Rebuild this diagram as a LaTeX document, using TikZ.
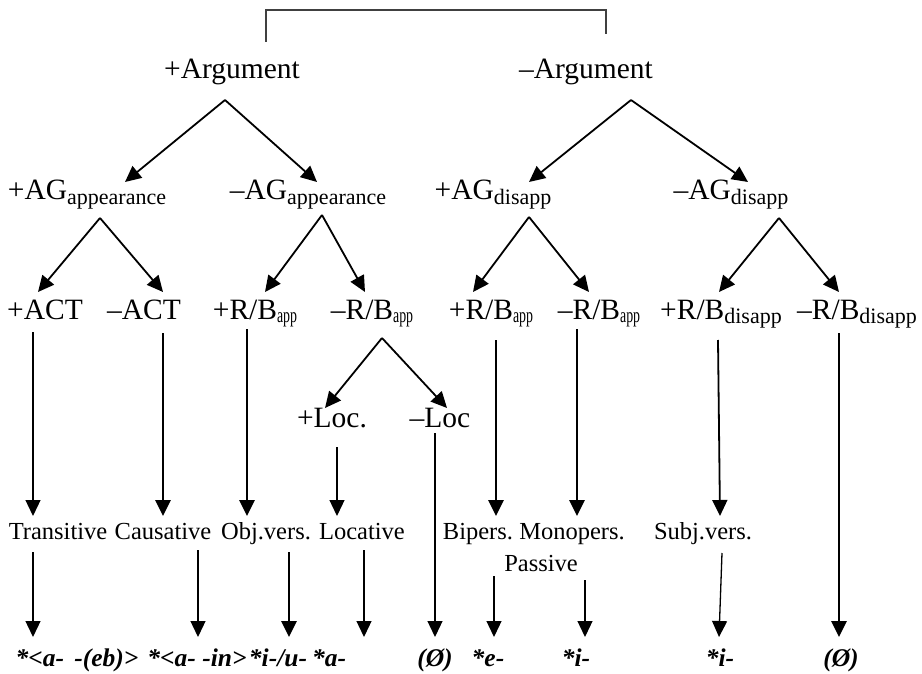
\documentclass[tikz,border=0pt]{standalone}
\usepackage{fontspec}
\setmainfont{Liberation Serif}
\usepackage{graphicx}
\usetikzlibrary{arrows.meta}
\newcommand\subtxt[1]{\raisebox{-5pt}{\fontsize{22}{24}\selectfont #1}}
\newcommand\subapp[1]{\raisebox{-3pt}{\scalebox{0.66}[1]{\fontsize{21}{24}\selectfont #1}}}
\tikzset{
  lvA/.style={font=\fontsize{29.5}{34}\selectfont,inner sep=0pt,anchor=base},
  lvB/.style={font=\fontsize{24.5}{28}\selectfont,inner sep=0pt,anchor=base},
  form/.style={font=\fontsize{25.5}{30}\selectfont\bfseries\itshape,inner sep=0pt,anchor=base},
  arr/.style={-{Triangle[length=16pt,width=15pt]},line width=1.8pt},
  arrB/.style={arr,line width=2.7pt},
  arrT/.style={arr,line width=1.3pt}
}
\begin{document}
\begin{tikzpicture}[x=1pt,y=-1pt]
\useasboundingbox (0,0) rectangle (922,674);
% features
\node[lvA] (argp) at (232,79) {+Argument};
\node[lvA] (argm) at (586,79) {–Argument};
\node[lvA] (agpp) at (87,200) {+AG\subtxt{appearance}};
\node[lvA] (agpm) at (308,200) {–AG\subtxt{appearance}};
\node[lvA] (agdp) at (493,200) {+AG\subtxt{disapp}};
\node[lvA] (agdm) at (731,200) {–AG\subtxt{disapp}};
\node[lvA] (actp) at (45,319) {+ACT};
\node[lvA] (actm) at (144,319) {–ACT};
\node[lvA] (rbap1) at (255,319) {+R/B\subapp{app}};
\node[lvA] (rbam1) at (372,319) {–R/B\subapp{app}};
\node[lvA] (rbap2) at (491,319) {+R/B\subapp{app}};
\node[lvA] (rbam2) at (599,319) {–R/B\subapp{app}};
\node[lvA] (rbdp) at (721,319) {+R/B\subtxt{disapp}};
\node[lvA] (rbdm) at (857,319) {–R/B\subtxt{disapp}};
\node[lvA] (locp) at (332,427) {+Loc.};
\node[lvA] (locm) at (440,427) {–Loc};
% verb classes
\node[lvB] (trans) at (58,539) {Transitive};
\node[lvB] (caus) at (163,539) {Causative};
\node[lvB] (objv) at (266,539) {Obj.vers.};
\node[lvB] (loc) at (362,539) {Locative};
\node[lvB] (bip) at (478,539) {Bipers.};
\node[lvB] (mono) at (572,539) {Monopers.};
\node[lvB] (pass) at (541,571) {Passive};
\node[lvB] (subj) at (703,539) {Subj.vers.};
% vowels
\node[form] (f1) at (77,666) {*<a-\hspace{0.4em}-(eb)>};
\node[form] (f2) at (197,666) {*<a- -in>};
\node[form] (f3) at (278,666) {*i-/u-};
\node[form] (f4) at (329,666) {*a-};
\node[form] (f5) at (435,666) {(Ø)};
\node[form] (f6) at (488,666) {*e-};
\node[form] (f7) at (576,666) {*i-};
\node[form] (f8) at (720,666) {*i-};
\node[form] (f9) at (841,666) {(Ø)};
% bracket on top
\draw[line width=1.4pt,black!75] ([shift={(34,-37)}]argp.base) |- ([shift={(20,-69)}]argm.base) -- ([shift={(20,-45)}]argm.base);
% branching
\draw[arr] ([shift={(-7,21)}]argp.base) -- ([shift={(38,-18)}]agpp.base);
\draw[arr] ([shift={(-7,21)}]argp.base) -- ([shift={(9,-18)}]agpm.base);
\draw[arr] ([shift={(45,21)}]argm.base) -- ([shift={(36,-18)}]agdp.base);
\draw[arr] ([shift={(45,21)}]argm.base) -- ([shift={(17,-18)}]agdm.base);
\draw[arr] ([shift={(13,18)}]agpp.base) -- ([shift={(-7,-27)}]actp.base);
\draw[arr] ([shift={(13,18)}]agpp.base) -- ([shift={(19,-27)}]actm.base);
\draw[arr] ([shift={(14,15)}]agpm.base) -- ([shift={(10,-27)}]rbap1.base);
\draw[arr] ([shift={(14,15)}]agpm.base) -- ([shift={(-7,-27)}]rbam1.base);
\draw[arr] ([shift={(36,17)}]agdp.base) -- ([shift={(-18,-27)}]rbap2.base);
\draw[arr] ([shift={(36,17)}]agdp.base) -- ([shift={(-10,-27)}]rbam2.base);
\draw[arr] ([shift={(48,18)}]agdm.base) -- ([shift={(-2,-27)}]rbdp.base);
\draw[arr] ([shift={(48,18)}]agdm.base) -- ([shift={(-18,-27)}]rbdm.base);
\draw[arr] ([shift={(10,19)}]rbam1.base) -- ([shift={(-7,-19)}]locp.base);
\draw[arr] ([shift={(10,19)}]rbam1.base) -- ([shift={(7,-19)}]locm.base);
% down to the classes
\draw[arrT] ([shift={(-12,13)}]actp.base) -- ([shift={(-25,-23)}]trans.base);
\draw[arrB] ([shift={(19,14)}]actm.base) -- ([shift={(0,-23)}]caus.base);
\draw[arrB] ([shift={(-8,10)}]rbap1.base) -- ([shift={(-19,-23)}]objv.base);
\draw[arrT] ([shift={(5,20)}]locp.base) -- ([shift={(-25,-23)}]loc.base);
\draw[arrB] ([shift={(5,21)}]rbap2.base) -- ([shift={(18,-23)}]bip.base);
\draw[arrB] ([shift={(-22,10)}]rbam2.base) -- ([shift={(5,-23)}]mono.base);
\draw[arr] ([shift={(-3,21)}]rbdp.base) -- ([shift={(17,-23)}]subj.base);
\draw[arrT] ([shift={(-5,6)}]locm.base) -- ([shift={(0,-29)}]f5.base);
\draw[arrB] ([shift={(-18,14)}]rbdm.base) -- ([shift={(-2,-29)}]f9.base);
% down to the vowels
\draw[arrT] ([shift={(-25,13)}]trans.base) -- ([shift={(-44,-29)}]f1.base);
\draw[arrT] ([shift={(35,11)}]caus.base) -- ([shift={(1,-29)}]f2.base);
\draw[arrB] ([shift={(23,13)}]objv.base) -- ([shift={(11,-29)}]f3.base);
\draw[arrT] ([shift={(2,11)}]loc.base) -- ([shift={(35,-29)}]f4.base);
\draw[arrT] ([shift={(16,37)}]bip.base) -- ([shift={(6,-29)}]f6.base);
\draw[arrT] ([shift={(13,41)}]mono.base) -- ([shift={(9,-29)}]f7.base);
\draw[arrT] ([shift={(19,14)}]subj.base) -- ([shift={(-1,-29)}]f8.base);
\end{tikzpicture}
\end{document}
